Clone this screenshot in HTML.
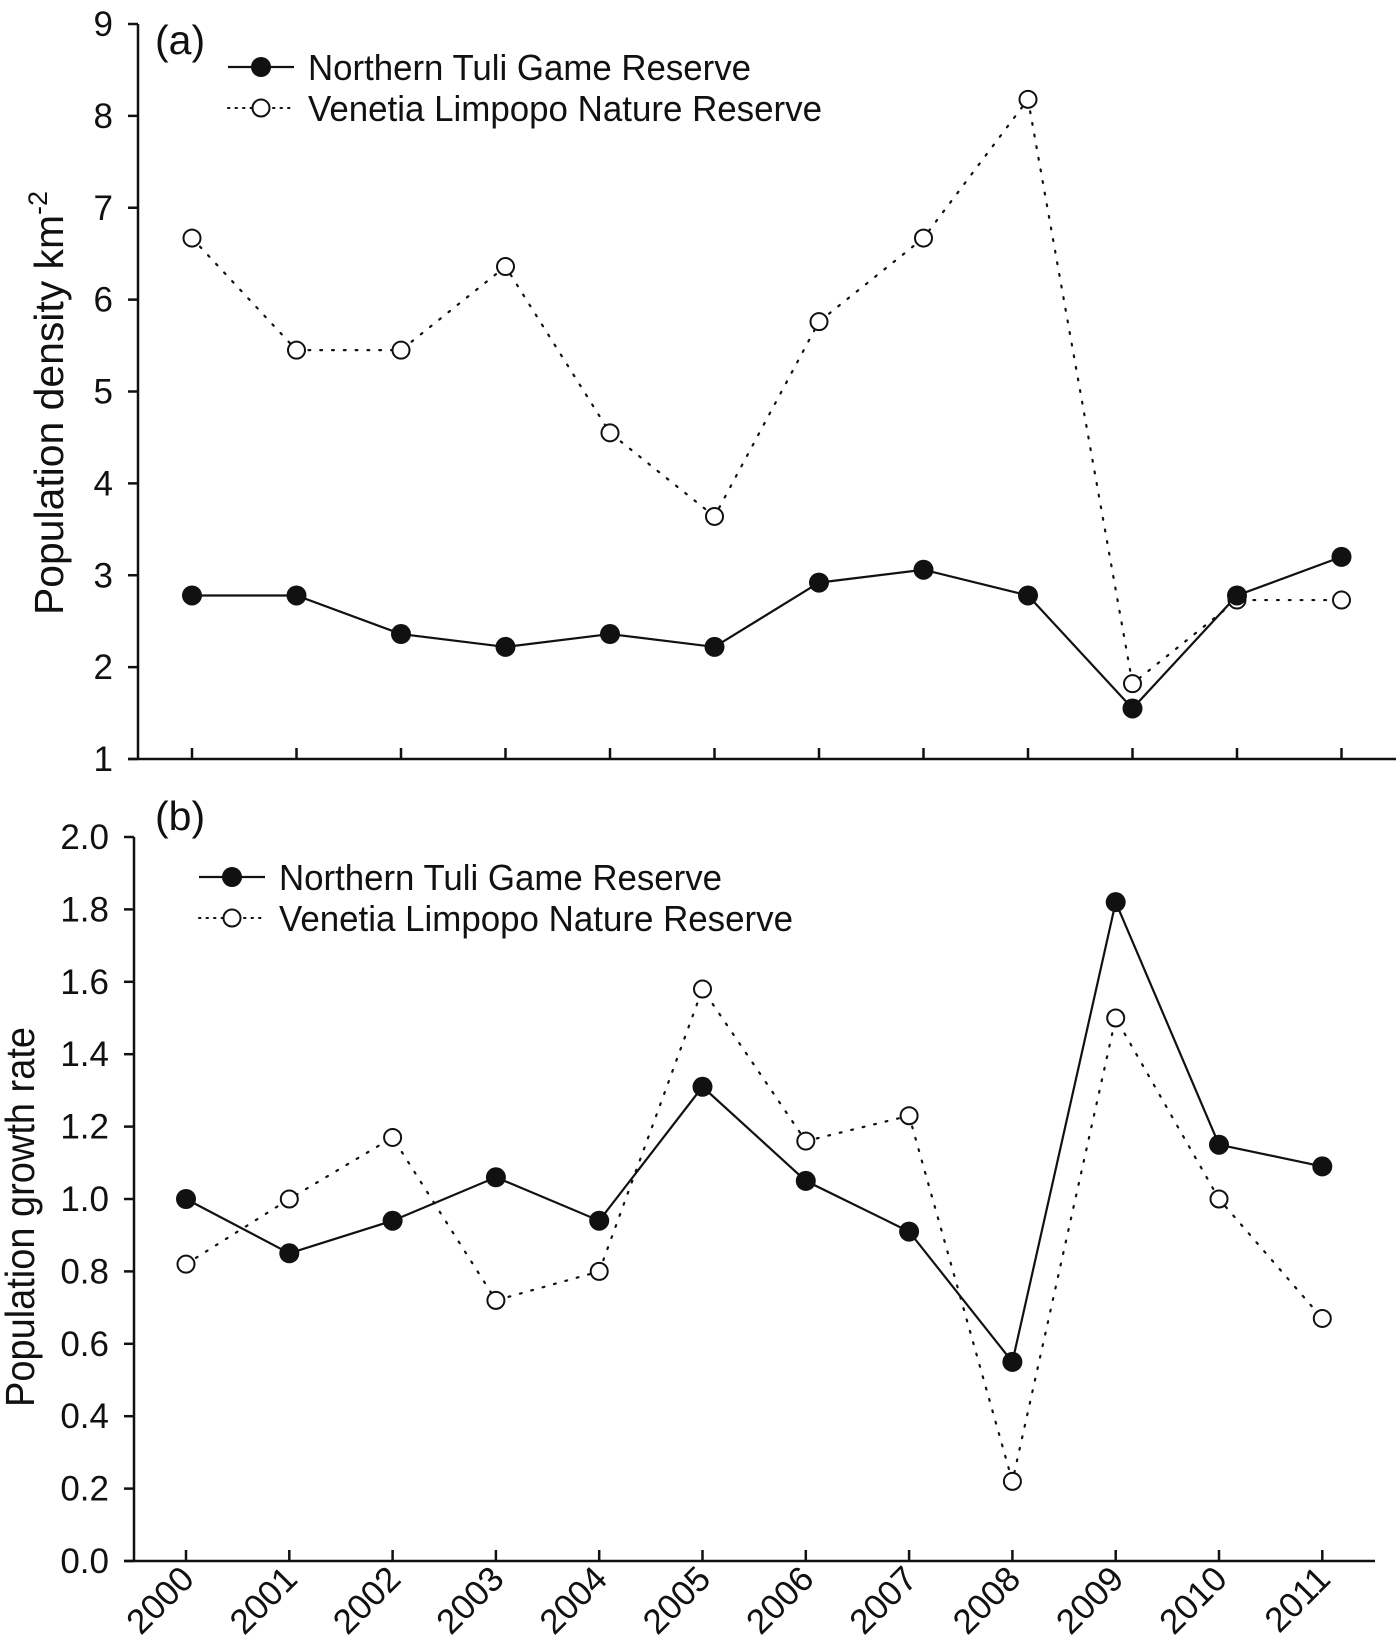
<!DOCTYPE html>
<html><head><meta charset="utf-8"><style>
html,body{margin:0;padding:0;background:#fff}
svg{display:block;font-family:"Liberation Sans",Arial,sans-serif}
</style></head><body>
<svg id="c" width="1400" height="1646" viewBox="0 0 1400 1646">
<text x="155" y="54" font-size="41" fill="#111">(a)</text>
<text x="155" y="830" font-size="41" fill="#111">(b)</text>
<text transform="translate(63,403) rotate(-90)" text-anchor="middle" font-size="41" fill="#111" textLength="424" lengthAdjust="spacingAndGlyphs">Population density km<tspan dy="-16" font-size="27">-2</tspan></text>
<text transform="translate(34,1217) rotate(-90)" text-anchor="middle" font-size="41" fill="#111" textLength="380" lengthAdjust="spacingAndGlyphs">Population growth rate</text>
</svg>
<script>
const years = ["2000","2001","2002","2003","2004","2005","2006","2007","2008","2009","2010","2011"];
const tuliDensity = [2.78,2.78,2.36,2.22,2.36,2.22,2.92,3.06,2.78,1.55,2.78,3.2];
const venetiaDensity = [6.67,5.45,5.45,6.36,4.55,3.64,5.76,6.67,8.18,1.82,2.73,2.73];
const tuliGrowth = [1.0,0.85,0.94,1.06,0.94,1.31,1.05,0.91,0.55,1.82,1.15,1.09];
const venetiaGrowth = [0.82,1.0,1.17,0.72,0.80,1.58,1.16,1.23,0.22,1.50,1.00,0.67];
const ticksA = [1,2,3,4,5,6,7,8,9];
const ticksB = ["0.0","0.2","0.4","0.6","0.8","1.0","1.2","1.4","1.6","1.8","2.0"];
const legendNames = ["Northern Tuli Game Reserve","Venetia Limpopo Nature Reserve"];

const svg=document.getElementById('c');
const NS="http://www.w3.org/2000/svg";
function mk(tag,attrs,parent){const e=document.createElementNS(NS,tag);for(const k in attrs)e.setAttribute(k,attrs[k]);(parent||svg).appendChild(e);return e;}
const DOT='1.8 10';
const legendW=[443,514];

function panel(p){
  const xf=i=>p.x0+i*p.dx;
  const yf=v=>p.yBase-(v-p.ymin)*(p.yTop-p.yBase)/(p.ymin-p.ymax);
  const g=mk('g',{});
  
  
  const ya=mk('line',{x1:p.ax,y1:p.yTop,x2:p.ax,y2:p.yBase,stroke:'#111','stroke-width':2.5},g);
  
  
  const xa=mk('line',{x1:p.ax-10,y1:p.yBase,x2:p.xEnd,y2:p.yBase,stroke:'#111','stroke-width':2.5},g);
  
  
  p.yt.forEach(t=>{
    const v=parseFloat(t);const y=yf(v);
    mk('line',{x1:p.ax-10,y1:y,x2:p.ax,y2:y,stroke:'#111','stroke-width':2.5},g);
    const tx=mk('text',{x:p.ax-25,y:y+12,'text-anchor':'end','font-size':35,fill:'#111'},g);
    tx.textContent=t;
    
    
  });
  years.forEach((yr,i)=>{
    const x=xf(i);
    mk('line',{x1:x,y1:p.yBase,x2:x,y2:p.yBase-11,stroke:'#111','stroke-width':2.5},g);
    if(p.labels){
      const tx=mk('text',{'text-anchor':'end','font-size':35,fill:'#111',transform:`translate(${x+10},${p.yBase+20}) rotate(-45)`},g);
      tx.textContent=yr;
      
      
    }
  });
  const pts=s=>s.map((v,i)=>xf(i)+','+yf(v)).join(' ');
  const l2=mk('polyline',{points:pts(p.s2),fill:'none',stroke:'#111','stroke-width':2.2,'stroke-dasharray':DOT,'stroke-linecap':'round'},g);
  
  
  const l1=mk('polyline',{points:pts(p.s1),fill:'none',stroke:'#111','stroke-width':2.2},g);
  
  
  p.s2.forEach((v,i)=>{
    const c=mk('circle',{cx:xf(i),cy:yf(v),r:8.5,fill:'#fff',stroke:'#111','stroke-width':2},g);
    
    
  });
  p.s1.forEach((v,i)=>{
    const c=mk('circle',{cx:xf(i),cy:yf(v),r:10,fill:'#111'},g);
    
    
  });
  legendNames.forEach((n,k)=>{
    const y=p.ly+k*41;
    const lg=mk('g',{},g);
    
    
    if(k===0){
      mk('line',{x1:p.lx-33,y1:y,x2:p.lx+33,y2:y,stroke:'#111','stroke-width':2.2},lg);
      mk('circle',{cx:p.lx,cy:y,r:10,fill:'#111'},lg);
    }else{
      mk('line',{x1:p.lx-33,y1:y,x2:p.lx+33,y2:y,stroke:'#111','stroke-width':2,'stroke-dasharray':'1.5 6','stroke-linecap':'round'},lg);
      mk('circle',{cx:p.lx,cy:y,r:8.5,fill:'#fff',stroke:'#111','stroke-width':2},lg);
    }
    const t=mk('text',{x:p.lx+47,y:y+13,'font-size':36,fill:'#111',textLength:legendW[k],lengthAdjust:'spacingAndGlyphs'},lg);
    t.textContent=n;
  });
}
panel({name:'panel-a',ax:138,yTop:24,yBase:759,ymin:1,ymax:9,x0:192,dx:104.5,xEnd:1396,yt:ticksA.map(String),s1:tuliDensity,s2:venetiaDensity,labels:false,lx:261,ly:67});
panel({name:'panel-b',ax:134,yTop:837,yBase:1561,ymin:0,ymax:2,x0:186,dx:103.3,xEnd:1375,yt:ticksB,s1:tuliGrowth,s2:venetiaGrowth,labels:true,lx:232,ly:877});
</script>
</body></html>
